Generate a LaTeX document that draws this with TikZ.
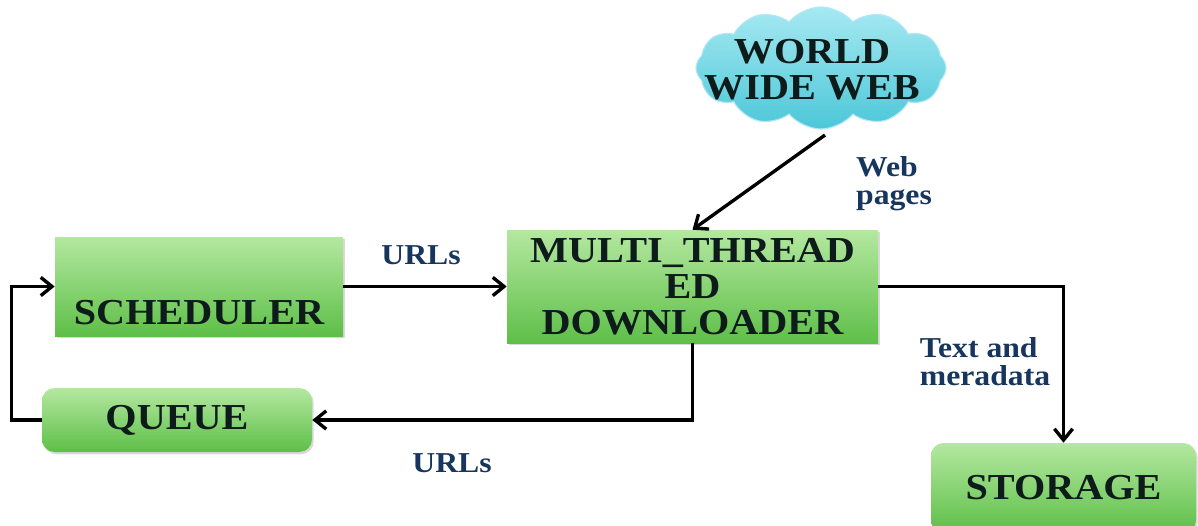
\documentclass[tikz,border=0pt]{standalone}
\usepackage{fontspec}
\newfontfamily\dfont{Liberation Serif}[FakeStretch=1.1]
\usetikzlibrary{shapes.symbols,arrows.meta,shadows}
\definecolor{gtop}{HTML}{B4E8A0}
\definecolor{gbot}{HTML}{5EBF48}
\definecolor{boxtxt}{HTML}{0E1B1B}
\definecolor{lbltxt}{HTML}{17365D}
\definecolor{ctop}{HTML}{A6E9F1}
\definecolor{cbot}{HTML}{4CC7D8}
\tikzset{
  gbox/.style={shade, top color=gtop, bottom color=gbot, draw=none,
    font=\dfont\bfseries\fontsize{26}{25.5}\selectfont, text=boxtxt, align=center,
    inner sep=2pt,
    drop shadow={opacity=.3, shadow xshift=1.2pt, shadow yshift=-1.6pt}},
  rbox/.style={gbox, rounded corners=9pt},
  lbl/.style={font=\dfont\bfseries\fontsize{20.5}{20}\selectfont, text=lbltxt, align=left, inner sep=0pt},
  conn/.style={line width=2.4pt, -{Straight Barb[length=8pt,width=13pt]}},
}
\begin{document}
\begin{tikzpicture}[x=0.025cm,y=-0.025cm]
\useasboundingbox (0,0) rectangle (1198,526);
\clip (0,0) rectangle (1198,526);
% cloud
\node[cloud, cloud puffs=12, cloud puff arc=100, aspect=2.3,
  minimum width=250*0.025cm, minimum height=122*0.025cm, inner sep=0pt,
  shade, top color=ctop, bottom color=cbot, draw=white!70!cyan, line width=0.8pt] (web) at (821,68) {};
\node[font=\dfont\bfseries\fontsize{26}{25.5}\selectfont, text=boxtxt, align=center, inner sep=0pt] (webt) at (812,70) {WORLD\\WIDE WEB};
% boxes
\node[gbox, minimum width=288*0.025cm, minimum height=99*0.025cm, text height=54pt, text depth=0pt] (sched) at (199,286.5) {SCHEDULER};
\node[rbox, minimum width=270*0.025cm, minimum height=64*0.025cm] (queue) at (177,420) {QUEUE};
\node[gbox, minimum width=371*0.025cm, minimum height=113*0.025cm] (mt) at (692.5,286.5) {MULTI\_THREAD\\ED\\DOWNLOADER};
\node[rbox, minimum width=265*0.025cm, minimum height=90*0.025cm] (stor) at (1063.5,488) {STORAGE};
% connectors
\coordinate (wsrc) at (825,135);
\draw[conn] (wsrc) -- (mt.north);
\draw[conn] (sched.east) -- (mt.west);
\draw[conn] (mt.south) |- (queue.east);
\draw[conn] (queue.west) -- ++(-30,0) |- (sched.west);
\draw[conn] (mt.east) -| (stor.north);
% labels
\node[lbl] (l1) at (421,255) {URLs};
\node[lbl] (l2) at (452,463) {URLs};
\node[lbl] (l3) at (894,184) {Web\\pages};
\node[lbl] (l4) at (985,362) {Text and\\meradata};
\end{tikzpicture}
\end{document}
